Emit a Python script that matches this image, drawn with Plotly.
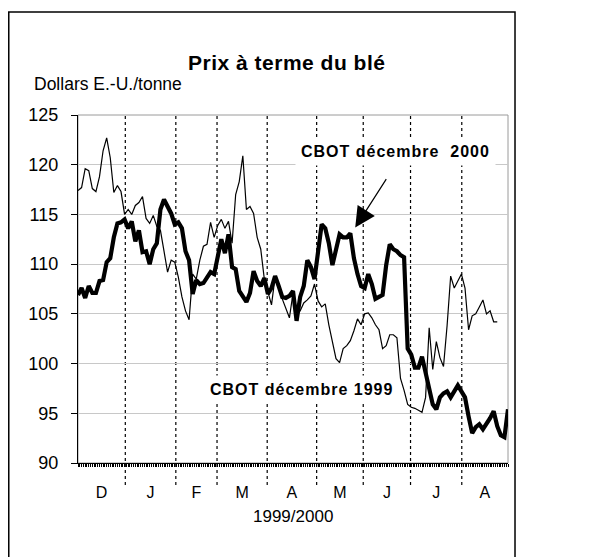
import plotly.graph_objects as go

# observation index (roughly every two trading days), Dec 1999 -> Aug 2000
month_labels = ["D", "J", "F", "M", "A", "M", "J", "J", "A"]
month_breaks = [13.2, 27.3, 38.8, 52.8, 66.6, 79.6, 92.8, 107.1]
x_end = 120

cbot_dec_1999 = [
    117.4, 117.7, 119.6, 119.4, 117.6, 117.3, 118.8, 121.4, 122.7, 120.7,
    117.2, 117.9, 117.3, 115.0, 115.5, 115.0, 115.9, 116.2, 116.8, 114.6,
    114.1, 114.9, 113.8, 113.4, 111.3, 109.2, 110.4, 110.2, 108.7, 106.7,
    105.3, 104.4, 109.0, 108.5, 110.4, 111.8, 112.0, 114.2, 112.7, 113.9,
    114.5, 113.6, 114.3, 112.1, 117.0, 118.3, 120.9, 115.5, 115.8, 115.1,
    112.7, 111.5, 108.5, 107.1, 105.9, 108.7, 108.0, 106.5, 105.5, 104.6,
    107.1, 105.0, 105.3, 106.1, 106.4, 106.8, 108.0, 106.3, 105.7, 106.0,
    103.9, 102.2, 100.5, 100.1, 101.5, 101.8, 102.3, 103.3, 104.5, 103.9,
    105.0, 105.1, 104.6, 103.9, 103.4, 101.5, 101.8, 102.9, 102.9, 102.6,
    98.5, 97.3, 95.9, 95.6, 95.5, 95.3, 95.1, 96.6, 103.6, 99.4,
    102.2, 100.6, 99.7, 103.8, 108.8, 107.6, 108.3, 109.0, 107.6, 103.4,
    104.8, 105.0, 105.7, 106.4, 105.0, 105.3, 104.2, 104.2,
]

cbot_dec_2000 = [
    106.9, 107.6, 106.6, 107.8, 107.1, 107.1, 108.3, 108.4, 110.2, 110.6,
    112.7, 114.1, 114.2, 114.5, 113.6, 114.3, 112.3, 113.4, 111.2, 111.3,
    110.0, 111.5, 112.1, 115.5, 116.5, 115.8, 115.1, 114.0, 114.2, 113.6,
    111.3, 110.4, 107.0, 108.4, 108.0, 108.1, 108.7, 109.2, 109.0, 110.6,
    112.5, 111.1, 113.0, 109.7, 109.5, 107.3, 106.8, 106.2, 107.1, 109.3,
    108.3, 107.8, 108.6, 107.0, 107.6, 108.8, 107.8, 106.7, 106.6, 106.8,
    107.3, 104.3, 106.7, 107.8, 110.4, 109.7, 108.5, 111.1, 114.0, 113.6,
    112.1, 109.9, 111.5, 113.0, 112.7, 112.7, 113.1, 110.6, 109.0, 107.8,
    107.6, 109.0, 108.0, 106.5, 106.7, 106.9, 109.9, 112.0, 111.5, 111.3,
    110.9, 110.7, 101.5, 100.9, 99.6, 99.6, 100.7, 99.0, 97.8, 95.9,
    95.4, 96.6, 97.0, 97.2, 96.6, 97.2, 97.8, 97.2, 96.6, 94.7,
    93.0, 93.6, 93.9, 93.4, 93.9, 94.5, 95.2, 93.7, 92.8, 92.6,
    95.4,
]

y_ticks = [90, 95, 100, 105, 110, 115, 120, 125]

FONT = "Liberation Sans, Arial, sans-serif"


def spaced(text, px):
    return f"<span style='letter-spacing:{px}px'>{text}</span>"


def add_text(fig, text, x, y, size, xanchor="center", **kw):
    fig.add_annotation(xref="paper", yref="paper", x=x, y=y, text=text, showarrow=False,
                       xanchor=xanchor, yanchor="middle",
                       font=dict(size=size, family=FONT, color="black"), **kw)


def build_figure():
    fig = go.Figure()
    fig.add_trace(go.Scatter(
        x=list(range(len(cbot_dec_1999))), y=cbot_dec_1999, mode="lines",
        line=dict(color="black", width=1.2), name="CBOT décembre 1999",
    ))
    fig.add_trace(go.Scatter(
        x=list(range(len(cbot_dec_2000))), y=cbot_dec_2000, mode="lines",
        line=dict(color="black", width=4.2), name="CBOT décembre 2000",
    ))

    edges = [0] + month_breaks + [x_end]
    centers = [(a + b) / 2 for a, b in zip(edges[:-1], edges[1:])]

    # plot frame (grey) then dotted month separators running below the axis
    fig.add_shape(type="rect", xref="paper", yref="paper", x0=0, x1=1, y0=0, y1=1,
                  line=dict(color="#9a9a9a", width=1), layer="below")
    for b in month_breaks:
        fig.add_shape(type="line", xref="x", yref="paper", x0=b, x1=b, y0=-0.063, y1=1,
                      line=dict(color="black", width=1.2, dash="dot"), layer="below")
    # outer chart border
    fig.add_shape(type="rect", xref="paper", yref="paper", x0=-0.161, x1=1.0163,
                  y0=-0.4, y1=1.296, line=dict(color="black", width=1.5))

    add_text(fig, spaced("<b>Prix à terme du blé</b>", 0.5), 0.486, 1.152, 21)
    add_text(fig, "Dollars E.-U./tonne", -0.107, 1.089, 17.5, xanchor="left")
    add_text(fig, "1999/2000", 0.5, -0.155, 17)

    add_text(fig, spaced("<b>CBOT décembre&nbsp; 2000</b>", 1), 0.505, 0.896, 16,
             xanchor="left", bgcolor="white", borderpad=5)
    fig.add_annotation(xref="paper", yref="paper", x=0.6447, y=0.6765,
                       ax=32, ay=-50, text="", showarrow=True,
                       arrowhead=2, arrowsize=3.4, arrowwidth=1.2, arrowcolor="black")
    add_text(fig, spaced("<b>CBOT décembre 1999</b>", 1), 0.293, 0.212, 16,
             xanchor="left", bgcolor="white", borderpad=5)

    # the page adds an 8px body margin, so the figure is 8px short on each side
    fig.update_layout(
        width=596, height=549,
        margin=dict(l=70, r=96, t=107, b=94),
        paper_bgcolor="white", plot_bgcolor="white",
        showlegend=False,
        font=dict(family=FONT, size=18, color="black"),
    )
    fig.update_xaxes(
        range=[0, x_end], tickvals=centers, ticktext=month_labels, ticks="",
        showgrid=False, zeroline=False, showline=True, linecolor="black", linewidth=1.2,
        ticklabelstandoff=15, tickfont=dict(size=16),
        minor=dict(ticks="outside", ticklen=3, tickwidth=1, tickcolor="black",
                   dtick=0.5, tick0=0, showgrid=False),
    )
    fig.update_yaxes(
        range=[90, 125], tickvals=y_ticks, ticks="outside", ticklen=6, tickcolor="black",
        showgrid=True, gridcolor="#c8c8c8", gridwidth=1, zeroline=False,
        showline=True, linecolor="black", linewidth=1.2, ticklabelstandoff=9,
        tickfont=dict(size=18),
    )
    return fig


fig = build_figure()
fig.write_html("out.html")
